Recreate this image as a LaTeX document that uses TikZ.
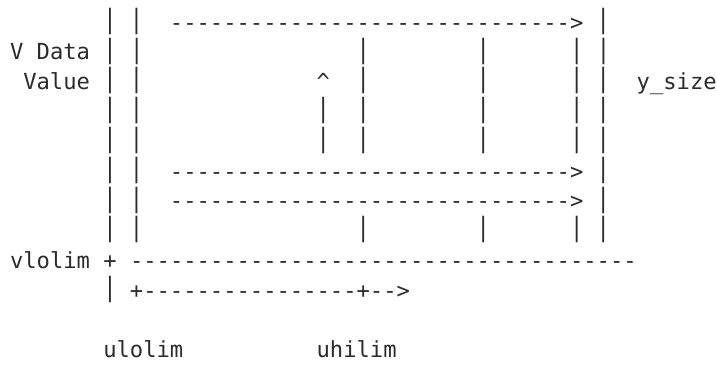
\documentclass[tikz,border=0pt]{standalone}
\usepackage{fontspec}
\setmonofont{DejaVu Sans Mono}
\usepackage{graphicx}
\usepackage{tikz}
\usetikzlibrary{positioning}
\definecolor{ink}{HTML}{2B2B2B}
% one blank cell of the grid, and a slightly taller bar
\newcommand{\blank}[1]{\hspace*{#1\fontcharwd\font`x}}
\newcommand{\pipe}{\raisebox{0.08em}{\scalebox{1}[1.2]{|}}}

\begin{document}
\begin{tikzpicture}[x=1pt,y=-1pt]
  \tikzstyle{ascii} = [anchor=base west,inner sep=0pt,outer sep=0pt,text=ink,font=\ttfamily\fontsize{22.15}{26}\selectfont]

  \useasboundingbox (0,0) rectangle (717,365);

  \node[ascii] (row_0) at (103.3,30.0) {\pipe~\pipe\blank{2}------------------------------>~\pipe};
  \node[ascii] (row_1) at (10.0,59.8) {V~Data~\pipe~\pipe\blank{16}\pipe\blank{8}\pipe\blank{6}\pipe~\pipe};
  \node[ascii] (row_2) at (23.3,89.6) {Value~\pipe~\pipe\blank{13}\textasciicircum\blank{2}\pipe\blank{8}\pipe\blank{6}\pipe~\pipe\blank{2}y\_size};
  \node[ascii] (row_3) at (103.3,119.4) {\pipe~\pipe\blank{13}\pipe\blank{2}\pipe\blank{8}\pipe\blank{6}\pipe~\pipe};
  \node[ascii] (row_4) at (103.3,149.2) {\pipe~\pipe\blank{13}\pipe\blank{2}\pipe\blank{8}\pipe\blank{6}\pipe~\pipe};
  \node[ascii] (row_5) at (103.3,179.0) {\pipe~\pipe\blank{2}------------------------------>~\pipe};
  \node[ascii] (row_6) at (103.3,208.8) {\pipe~\pipe\blank{2}------------------------------>~\pipe};
  \node[ascii] (row_7) at (103.3,238.6) {\pipe~\pipe\blank{16}\pipe\blank{8}\pipe\blank{6}\pipe~\pipe};
  \node[ascii] (row_8) at (10.0,268.4) {vlolim~+~--------------------------------------};
  \node[ascii] (row_9) at (103.3,298.2) {\pipe~+----------------+-->};

  \node[ascii] (ulolim) at (103.3,357.8) {ulolim};
  \node[ascii] (uhilim) at (316.6,357.8) {uhilim};
\end{tikzpicture}
\end{document}
